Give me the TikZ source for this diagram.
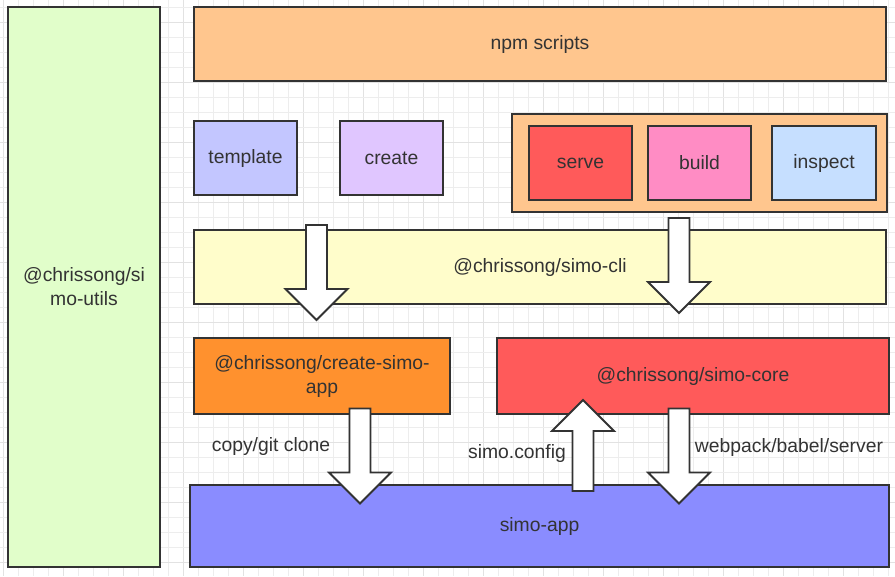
\documentclass[tikz,border=0pt]{standalone}
\usepackage{fontspec}
\setmainfont{Liberation Sans}
\usetikzlibrary{shadows,calc}
\definecolor{boxline}{HTML}{333333}
\definecolor{txt}{HTML}{333333}
\definecolor{gridminor}{HTML}{EDEDED}
\definecolor{gridmajor}{HTML}{E2E2E2}
\definecolor{cutils}{HTML}{E1FECA}
\definecolor{cnpm}{HTML}{FFC68E}
\definecolor{ctemplate}{HTML}{C3C6FF}
\definecolor{ccreate}{HTML}{E0C6FF}
\definecolor{cserve}{HTML}{FF5A5A}
\definecolor{cbuild}{HTML}{FF8CC4}
\definecolor{cinspect}{HTML}{C6DFFF}
\definecolor{ccli}{HTML}{FFFDCB}
\definecolor{ccsa}{HTML}{FF912E}
\definecolor{ccore}{HTML}{FF5A5A}
\definecolor{capp}{HTML}{8A8CFF}
\begin{document}
\begin{tikzpicture}[x=0.75pt,y=-0.75pt,
  box/.style={draw=boxline, line width=1.4pt, text=txt, align=center, inner sep=0pt,
    font=\fontsize{14.5}{18}\selectfont,
    drop shadow={shadow xshift=0.8pt, shadow yshift=-0.8pt, opacity=0.55, fill=black}},
  lbl/.style={text=txt, inner sep=0pt, font=\fontsize{14.5}{18}\selectfont},
  barrow/.style={draw=boxline, fill=white, line width=1.4pt, line join=miter},
  pics/blockarrow/.style={code={
    \draw[barrow] (-10.5,0) -- (-10.5,#1-31) -- (-31,#1-31) -- (0,#1)
      -- (31,#1-31) -- (10.5,#1-31) -- (10.5,0) -- cycle;}}]
\useasboundingbox (0,0) rectangle (895,576);
\fill[white] (0,0) rectangle (895,576);
% grid
\foreach \k in {0,...,59} {
  \pgfmathtruncatemacro\m{mod(\k,4)}
  \ifnum\m=0 \draw[gridmajor, line width=0.6pt] ({3+15*\k},0) -- ({3+15*\k},576);
  \else \draw[gridminor, line width=0.5pt] ({3+15*\k},0) -- ({3+15*\k},576); \fi
}
\foreach \k in {0,...,38} {
  \pgfmathtruncatemacro\m{mod(\k+3,4)}
  \ifnum\m=0 \draw[gridmajor, line width=0.6pt] (0,{7.5+15*\k}) -- (895,{7.5+15*\k});
  \else \draw[gridminor, line width=0.5pt] (0,{7.5+15*\k}) -- (895,{7.5+15*\k}); \fi
}
% boxes
\node[box, fill=cutils, minimum width=114pt, minimum height=420pt] (utils) at (84,287) {@chrissong/si\\mo-utils};
\node[box, fill=cnpm, minimum width=519pt, minimum height=55.5pt] (npm) at (540,44) {npm scripts};
\node[box, fill=ctemplate, minimum width=77.25pt, minimum height=55.5pt] (template) at (245.5,158) {template};
\node[box, fill=ccreate, minimum width=77.25pt, minimum height=55.5pt] (create) at (391.5,158) {create};
\node[box, fill=cnpm, minimum width=281.25pt, minimum height=73.5pt] (cmds) at (699.5,163) {};
\node[box, fill=cserve, minimum width=77.25pt, minimum height=55.5pt] (serve) at (580.5,163) {serve};
\node[box, fill=cbuild, minimum width=77.25pt, minimum height=55.5pt] (build) at (699.5,163) {build};
\node[box, fill=cinspect, minimum width=78pt, minimum height=55.5pt] (inspect) at (824,163) {inspect};
\node[box, fill=ccli, minimum width=519pt, minimum height=55.5pt] (cli) at (540,267) {@chrissong/simo-cli};
\node[box, fill=ccsa, minimum width=192pt, minimum height=57pt] (csa) at (322,376) {@chrissong/create-simo-\\app};
\node[box, fill=ccore, minimum width=294pt, minimum height=57pt] (core) at (693,376) {@chrissong/simo-core};
\node[box, fill=capp, minimum width=524.25pt, minimum height=61.5pt] (app) at (539.5,526) {simo-app};
% block arrows
\pic (a1) at (316.5,225) {blockarrow=95};
\pic (a2) at (679,218) {blockarrow=95};
\pic (a3) at (360,408.5) {blockarrow=95};
\pic[rotate=180] (a4) at (583,491) {blockarrow=91};
\pic (a5) at (679,408.5) {blockarrow=95};
% labels
\node[lbl] (lcopy) at (271,446) {copy/git clone};
\node[lbl] (lconfig) at (517,453) {simo.config};
\node[lbl] (lwebpack) at (789,447) {webpack/babel/server};
\end{tikzpicture}
\end{document}
